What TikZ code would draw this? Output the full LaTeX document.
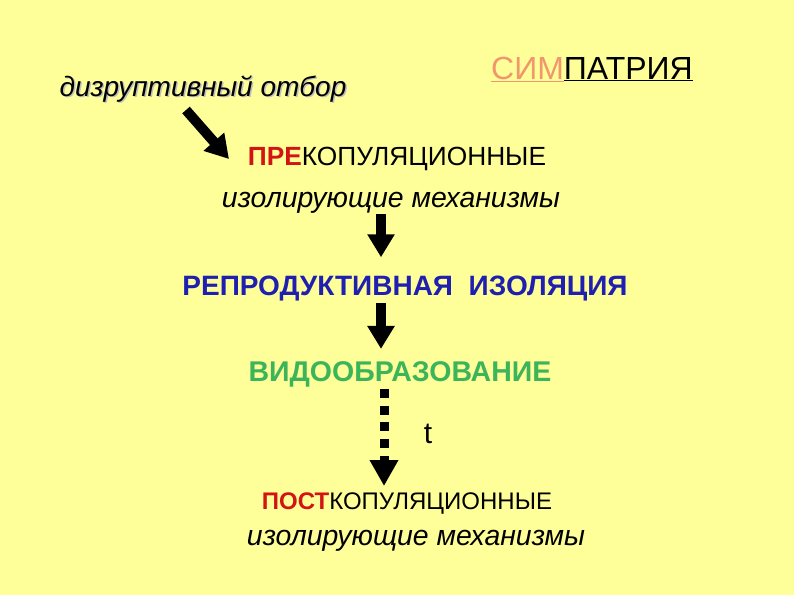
\documentclass[tikz,border=0pt]{standalone}
\usepackage{fontspec}
\setmainfont{Liberation Sans}
\usetikzlibrary{arrows.meta}

\definecolor{slidebg}{RGB}{255,255,153}
\definecolor{simcol}{RGB}{242,150,110}
\definecolor{precol}{RGB}{210,20,20}
\definecolor{reprocol}{RGB}{32,32,176}
\definecolor{vidcol}{RGB}{60,180,90}

\tikzset{
  txt/.style={inner sep=0pt, anchor=base},
  bigarrow/.style={line width=10pt, -{Triangle[width=26pt,length=23pt]}},
  dotarrow/.style={line width=9pt, dash pattern=on 9pt off 7.7pt,
    -{Triangle[width=27pt,length=26pt]}}
}

\begin{document}
\begin{tikzpicture}[x=1pt,y=-1pt]
            % slide background
            \fill[slidebg] (0,0) rectangle (794,595);
            \useasboundingbox (0,0) rectangle (794,595);

            % Text blocks
            \node[txt, text=gray!50, font=\fontsize{28}{30}\selectfont\itshape] at (204.5,97.5) {дизруптивный отбор};
            \node[txt, font=\fontsize{28}{30}\selectfont\itshape] (disr) at (203,96) {дизруптивный отбор};
            \node[txt, font=\fontsize{32}{34}\selectfont] (simp) at (592,79) {\textcolor{simcol}{\underline{СИМ}}\underline{ПАТРИЯ}};
            \node[txt, font=\fontsize{26.3}{28}\selectfont] (pre) at (397,165) {\textcolor{precol}{\textbf{ПРЕ}}КОПУЛЯЦИОННЫЕ};
            \node[txt, font=\fontsize{28.4}{31}\selectfont\itshape] (iso1) at (391,207) {изолирующие механизмы};
            \node[txt, text=reprocol, font=\fontsize{28}{30}\selectfont\bfseries] (repro) at (405,295) {РЕПРОДУКТИВНАЯ\ \ ИЗОЛЯЦИЯ};
            \node[txt, text=vidcol, font=\fontsize{28.5}{30}\selectfont\bfseries] (vid) at (400,381) {ВИДООБРАЗОВАНИЕ};
            \node[txt, font=\fontsize{30}{32}\selectfont] (t) at (428,443) {t};
            \node[txt, font=\fontsize{24}{26}\selectfont] (post) at (407,509) {\textcolor{precol}{\textbf{ПОСТ}}КОПУЛЯЦИОННЫЕ};
            \node[txt, font=\fontsize{28.4}{31}\selectfont\itshape] (iso2) at (416,545) {изолирующие механизмы};

            % Arrows
            \coordinate (ax) at (381,0);
            \coordinate (dstart) at (186,110);
            \coordinate (dend) at (229,159);
            \draw[bigarrow] (dstart) -- (dend);
            \draw[bigarrow] ([yshift=-1pt]iso1.south -| ax) -- ([yshift=18pt]repro.north -| ax);
            \draw[bigarrow] ([yshift=-2pt]repro.south -| ax) -- ([yshift=12pt]vid.north -| ax);
            \draw[dotarrow] ([yshift=-2pt]vid.south -| ax) ++(3,0) coordinate (dotstart) -- ([yshift=6pt]post.north -| dotstart);
\end{tikzpicture}
\end{document}
